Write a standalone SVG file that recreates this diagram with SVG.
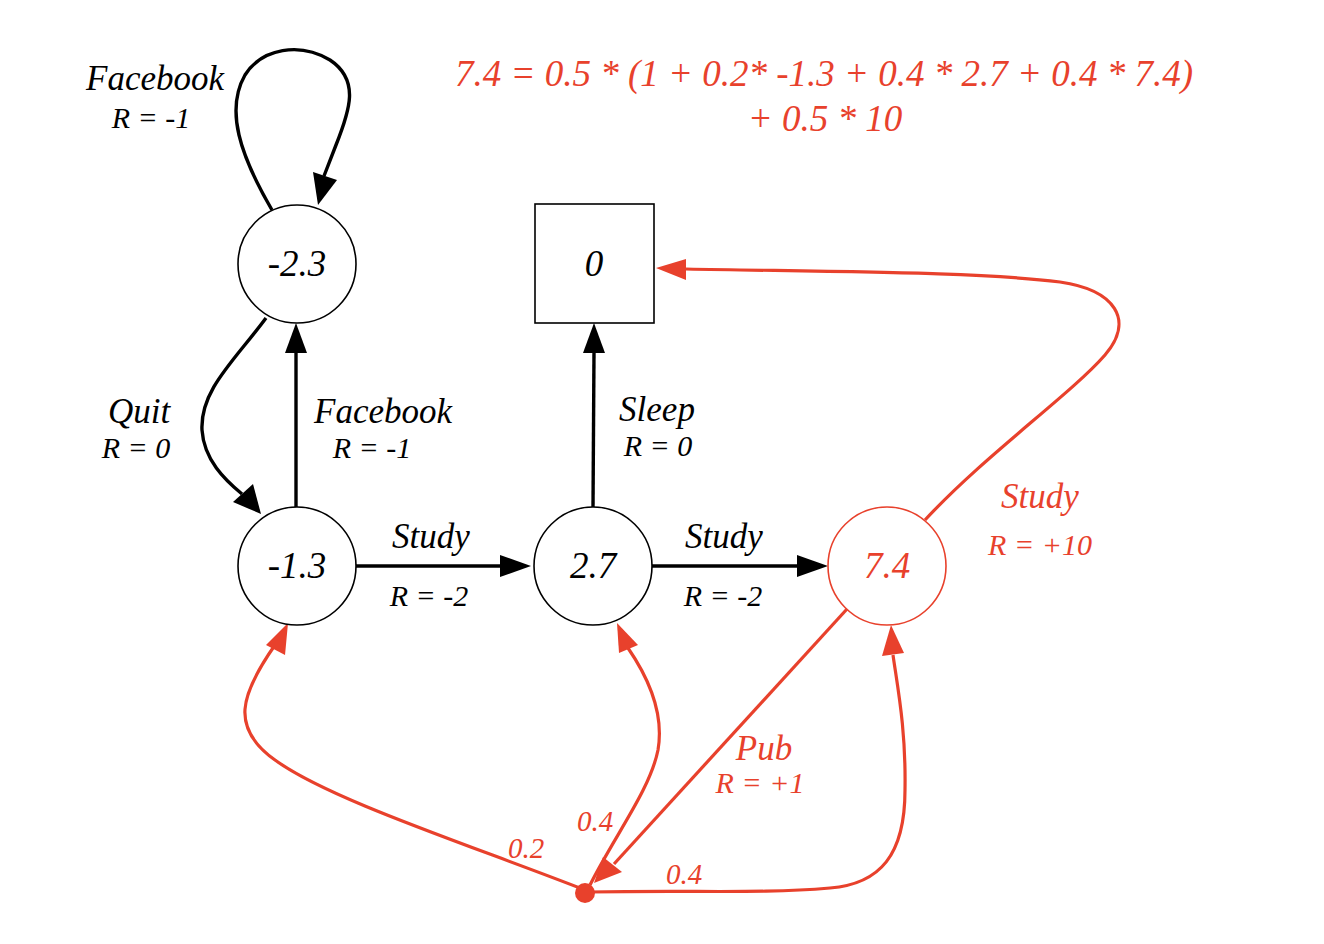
<svg xmlns="http://www.w3.org/2000/svg" width="1324" height="944" viewBox="0 0 1324 944">
<style>
.t{font-family:"Liberation Serif","Times New Roman",serif;font-style:italic;text-anchor:middle}
.v{font-size:37px}
.l{font-size:35px}
.r{font-size:30px}
.p{font-size:29px}
.q{font-size:37px}
.red{fill:#e8412c}
.blk{fill:#000}
.nb{fill:#fff;stroke:#000;stroke-width:1.6}
.nr{fill:#fff;stroke:#e8412c;stroke-width:1.6}
.eb{fill:none;stroke:#000;stroke-width:3.4}
.er{fill:none;stroke:#e8412c;stroke-width:3.2}
.hb{fill:#000}
.hr{fill:#e8412c}
</style>
<rect width="1324" height="944" fill="#fff"/>
<g id="connectors">
<g id="e-fb-self">
<path class="eb" d="M272 210 C 240 155, 225 110, 245 75 C 262 48, 300 42, 330 60 C 360 80, 350 110, 336 145 L 324 176"/>
<path class="hb" d="M313 172 L337 180 L318 205 z"/>
</g>
<g id="e-quit">
<path class="eb" d="M266 318 C 235 360, 200 390, 202 430 C 204 460, 225 480, 242 494"/>
<path class="hb" d="M233 502 L253 484 L261 514 z"/>
</g>
<g id="e-fb-up">
<line class="eb" x1="296" y1="507" x2="296" y2="352"/>
<path class="hb" d="M285 353 L307 353 L296 323 z"/>
</g>
<g id="e-study1">
<line class="eb" x1="356" y1="566" x2="502" y2="566"/>
<path class="hb" d="M500 555 L500 577 L531 566 z"/>
</g>
<g id="e-study2">
<line class="eb" x1="652" y1="566" x2="798" y2="566"/>
<path class="hb" d="M797 555 L797 577 L828 566 z"/>
</g>
<g id="e-sleep">
<line class="eb" x1="593" y1="507" x2="594" y2="352"/>
<path class="hb" d="M583 353 L605 353 L594 323 z"/>
</g>
<g id="e-study-red">
<path class="er" d="M925 520 C 985 455, 1070 395, 1105 355 C 1135 320, 1115 290, 1060 282 C 980 272, 850 272, 686 269"/>
<path class="hr" d="M686 259 L686 280 L656 268 z"/>
</g>
<g id="e-pub">
<line class="er" x1="847" y1="609" x2="614" y2="864"/>
<path class="hr" d="M603 857 L622 872 L594 883 z"/>
</g>
<g id="e-02">
<path class="er" d="M585 890 C 470 845, 330 800, 275 760 C 230 728, 240 695, 275 645"/>
<path class="hr" d="M266 645 L285 655 L288 623 z"/>
</g>
<g id="e-04a">
<path class="er" d="M590 885 C 615 835, 650 790, 658 750 C 664 715, 650 680, 628 648"/>
<path class="hr" d="M619 653 L638 645 L617 623 z"/>
</g>
<g id="e-04b">
<path class="er" d="M588 892 C 700 890, 760 894, 830 888 C 880 884, 905 855, 905 790 C 906 730, 898 690, 893 655"/>
<path class="hr" d="M882 656 L904 653 L891 625 z"/>
</g>
</g>
<g id="n-m23">
<circle class="nb" cx="297" cy="264" r="59"/>
<text class="t v blk" x="297" y="276">-2.3</text>
</g>
<g id="n-m13">
<circle class="nb" cx="297" cy="566" r="59"/>
<text class="t v blk" x="297" y="578">-1.3</text>
</g>
<g id="n-27">
<circle class="nb" cx="593" cy="566" r="59"/>
<text class="t v blk" x="593" y="578">2.7</text>
</g>
<g id="n-74">
<circle class="nr" cx="887" cy="566" r="59"/>
<text class="t v red" x="887" y="578">7.4</text>
</g>
<g id="n-0">
<rect class="nb" x="535" y="204" width="119" height="119"/>
<text class="t v blk" x="594" y="276">0</text>
</g>
<g id="n-dot">
<circle cx="585" cy="893" r="10" fill="#e8412c"/>
</g>
<g id="labels">
<text class="t l blk" x="155" y="90">Facebook</text>
<text class="t r blk" x="151" y="128">R = -1</text>
<text class="t l blk" x="139" y="423">Quit</text>
<text class="t r blk" x="136" y="458">R = 0</text>
<text class="t l blk" x="383" y="423">Facebook</text>
<text class="t r blk" x="372" y="458">R = -1</text>
<text class="t l blk" x="431" y="548">Study</text>
<text class="t r blk" x="429" y="606">R = -2</text>
<text class="t l blk" x="657" y="421">Sleep</text>
<text class="t r blk" x="658" y="456">R = 0</text>
<text class="t l blk" x="724" y="548">Study</text>
<text class="t r blk" x="723" y="606">R = -2</text>
<text class="t l red" x="1040" y="508">Study</text>
<text class="t r red" x="1040" y="555">R = +10</text>
<text class="t l red" x="764" y="760">Pub</text>
<text class="t r red" x="760" y="793">R = +1</text>
<text class="t p red" x="526" y="858">0.2</text>
<text class="t p red" x="595" y="831">0.4</text>
<text class="t p red" x="684" y="884">0.4</text>
<text class="t q red" x="824" y="86">7.4 = 0.5 * (1 + 0.2* -1.3 + 0.4 * 2.7 + 0.4 * 7.4)</text>
<text class="t q red" x="825" y="131">+ 0.5 * 10</text>
</g>
</svg>
